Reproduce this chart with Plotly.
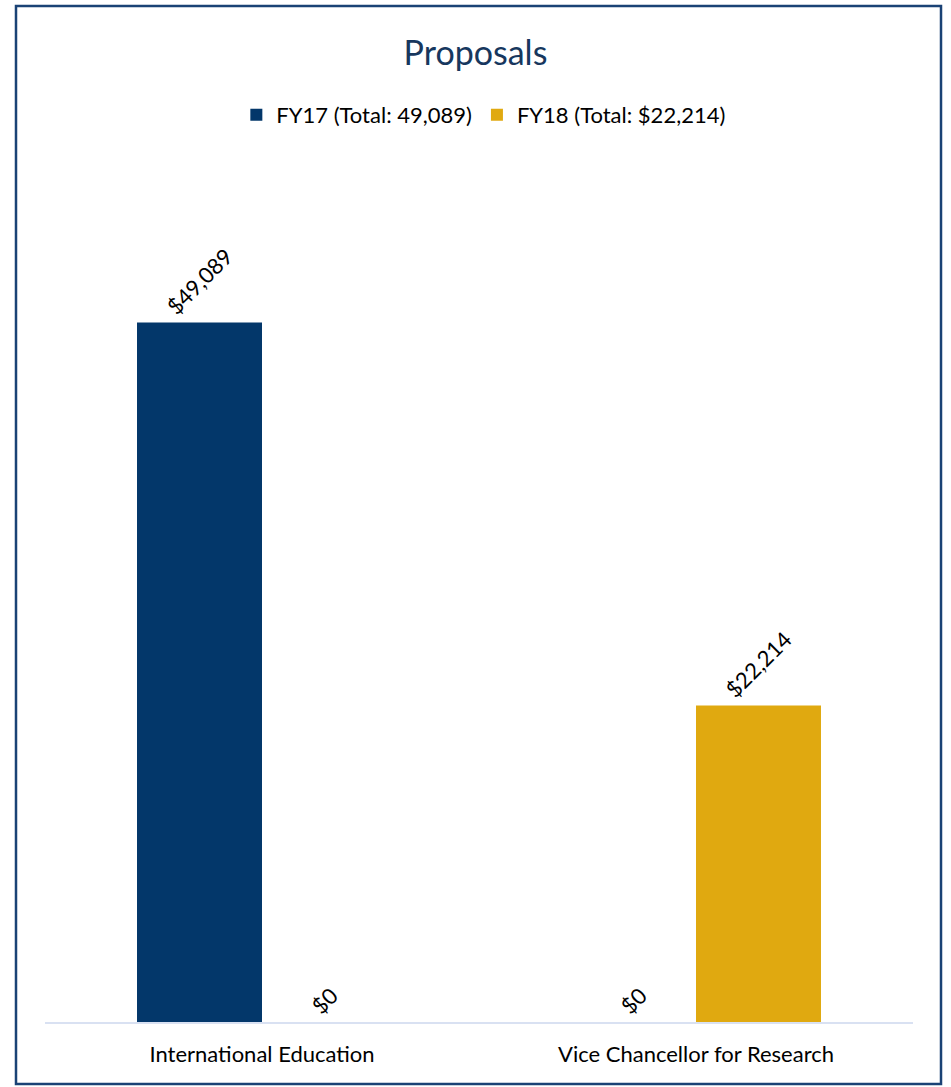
import plotly.graph_objects as go

categories = ["International Education", "Vice Chancellor for Research"]
fy17_values = [49089, 0]
fy18_values = [0, 22214]
series_names = ["FY17 (Total: 49,089)", "FY18 (Total: $22,214)"]

W, H = 951, 1087
ML, MR, MT, MB = 45, 38, 167, 65
FONT = "Lato, Calibri, Carlito, sans-serif"

fig = go.Figure()
fig.add_trace(go.Bar(
    x=categories, y=fy17_values, name=series_names[0],
    marker=dict(color="#03376A", line=dict(width=0)),
    texttemplate="$%{y:,}", textposition="outside", textangle=-45,
    textfont=dict(family=FONT, size=22, color="#000000"), cliponaxis=False,
))
fig.add_trace(go.Bar(
    x=categories, y=fy18_values, name=series_names[1],
    marker=dict(color="#E0A910", line=dict(width=0)),
    texttemplate="$%{y:,}", textposition="outside", textangle=-45,
    textfont=dict(family=FONT, size=22, color="#000000"), cliponaxis=False,
))

ph = H - MT - MB
pw = W - ML - MR
fig.add_shape(type="rect", xref="paper", yref="paper",
              x0=(16 - ML) / pw, x1=(941 - ML) / pw,
              y0=(H - MB - 1084) / ph, y1=(H - MB - 6) / ph,
              line=dict(color="#1A4275", width=2.5), layer="below")

fig.update_layout(
    width=W, height=H,
    margin=dict(l=ML, r=MR, t=MT, b=MB),
    paper_bgcolor="white", plot_bgcolor="white",
    barmode="group", bargap=0.424, bargroupgap=0,
    title=dict(text="Proposals", x=0.5, xanchor="center", y=1 - 53 / H, yanchor="middle",
               font=dict(family=FONT, size=34, color="#17375E")),
    legend=dict(orientation="h", x=0.505, xanchor="center", y=(H - MB - 115) / ph, yanchor="middle",
                font=dict(family=FONT, size=22, color="#000000"), itemsizing="constant",
                itemwidth=30, traceorder="normal"),
    font=dict(family=FONT),
    xaxis=dict(showline=True, linecolor="#D9E1F2", linewidth=2, ticks="outside", ticklen=12,
               tickcolor="rgba(0,0,0,0)",
               tickfont=dict(family=FONT, size=22, color="#000000"), showgrid=False),
    yaxis=dict(range=[0, 60000], visible=False, showgrid=False, zeroline=False),
)

fig.write_html("out.html", config={"displayModeBar": False},
               post_script="document.body.style.margin='0px';")
